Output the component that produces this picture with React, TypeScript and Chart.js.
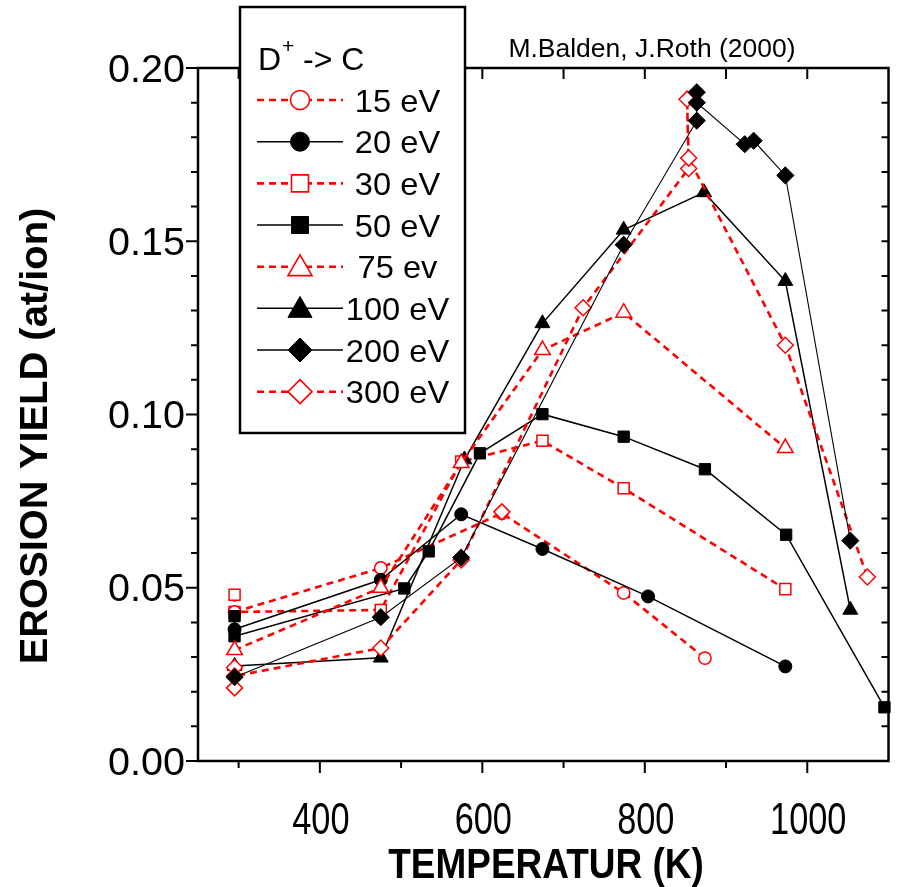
import React, { useEffect, useRef } from 'react';
import { Chart, registerables } from 'chart.js';

Chart.register(...registerables);

const FONT = '"Liberation Sans", Arial, Helvetica, sans-serif';

// ---- axes ----
const xMin = 250;
const xMax = 1100;
const yMin = 0;
const yMax = 0.2;
const xTickLabels = [400, 600, 800, 1000];
const xMinorTicks = [300, 500, 700, 900];
const yTickLabels = ['0.00', '0.05', '0.10', '0.15', '0.20'];
const yMinorTicks = [0.01, 0.02, 0.03, 0.04, 0.06, 0.07, 0.08, 0.09, 0.11, 0.12, 0.13, 0.14, 0.16, 0.17, 0.18, 0.19];

const xTitle = 'TEMPERATUR (K)';
const yTitle = 'EROSION YIELD (at/ion)';
const credit = 'M.Balden, J.Roth (2000)';
const legendTitleMain = 'D';
const legendTitleSup = '+';
const legendTitleRest = '-> C';

// ---- series (temperature K, erosion yield at/ion) ----
const names = ['15 eV', '20 eV', '30 eV', '50 eV', '75 ev', '100 eV', '200 eV', '300 eV'];

const t15 = [295, 475, 624, 774, 874];
const y15 = [0.043, 0.0557, 0.0715, 0.0485, 0.0297];

const t20 = [295, 475, 574, 674, 804, 973];
const y20 = [0.038, 0.0523, 0.0712, 0.0612, 0.0475, 0.0273];

const t30 = [295, 295, 475, 574, 674, 774, 973];
const y30 = [0.048, 0.043, 0.0436, 0.0864, 0.0924, 0.0787, 0.0496];

const t50 = [295, 295, 504, 534, 597, 674, 774, 874, 974, 1095];
const y50 = [0.0418, 0.036, 0.0498, 0.0605, 0.0888, 0.1001, 0.0936, 0.0842, 0.0653, 0.0155];

const t75 = [295, 475, 574, 674, 774, 973];
const y75 = [0.032, 0.05, 0.086, 0.1186, 0.1294, 0.0903];

const t100 = [295, 475, 578, 674, 774, 873, 973, 1053];
const y100 = [0.0274, 0.0298, 0.087, 0.1263, 0.1533, 0.1641, 0.1385, 0.0436];

const t200 = [295, 475, 574, 774, 864, 864, 864, 923, 934, 973, 1053];
const y200 = [0.0242, 0.0415, 0.0587, 0.149, 0.1848, 0.193, 0.19, 0.178, 0.179, 0.169, 0.0636];

const t300 = [295, 295, 295, 475, 574, 724, 854, 852, 854, 973, 1074];
const y300 = [0.027, 0.0211, 0.0245, 0.0326, 0.058, 0.1308, 0.171, 0.191, 0.174, 0.12, 0.0531];

// a lone 300 eV measurement not joined by the line
const t300b = [624];
const y300b = [0.0719];

const RED = '#ff0000';
const BLACK = '#000000';

type Kind = 'circle' | 'rect' | 'triangle' | 'rectRot';

const styles: { color: string; filled: boolean; kind: Kind; r: number; lw: number; order: number }[] = [
  { color: RED, filled: false, kind: 'circle', r: 6.2, lw: 2.6, order: 4 },
  { color: BLACK, filled: true, kind: 'circle', r: 6.5, lw: 1.5, order: 3 },
  { color: RED, filled: false, kind: 'rect', r: 7.8, lw: 2.6, order: 4 },
  { color: BLACK, filled: true, kind: 'rect', r: 8.0, lw: 1.5, order: 3 },
  { color: RED, filled: false, kind: 'triangle', r: 9.0, lw: 2.6, order: 2 },
  { color: BLACK, filled: true, kind: 'triangle', r: 8.6, lw: 1.5, order: 2 },
  { color: BLACK, filled: true, kind: 'rectRot', r: 8.6, lw: 1.1, order: 0 },
  { color: RED, filled: false, kind: 'rectRot', r: 8.0, lw: 2.6, order: 1 },
];

const seriesT = [t15, t20, t30, t50, t75, t100, t200, t300];
const seriesY = [y15, y20, y30, y50, y75, y100, y200, y300];

function txt(ctx: CanvasRenderingContext2D, s: string, x: number, y: number, font: string, sx: number, align: 'left' | 'center' | 'right') {
  ctx.save();
  ctx.font = font;
  ctx.textBaseline = 'alphabetic';
  ctx.textAlign = 'left';
  const w = ctx.measureText(s).width * sx;
  const x0 = align === 'center' ? x - w / 2 : align === 'right' ? x - w : x;
  ctx.translate(x0, y);
  ctx.scale(sx, 1);
  ctx.fillStyle = '#000';
  ctx.fillText(s, 0, 0);
  ctx.restore();
}

function marker(ctx: CanvasRenderingContext2D, kind: Kind, x: number, y: number, size: number, color: string, filled: boolean) {
  ctx.save();
  ctx.beginPath();
  if (kind === 'circle') {
    ctx.arc(x, y, size, 0, Math.PI * 2);
  } else if (kind === 'rect') {
    ctx.rect(x - size, y - size, size * 2, size * 2);
  } else if (kind === 'triangle') {
    ctx.moveTo(x, y - size);
    ctx.lineTo(x + size * 0.866, y + size * 0.5);
    ctx.lineTo(x - size * 0.866, y + size * 0.5);
    ctx.closePath();
  } else {
    ctx.moveTo(x, y - size);
    ctx.lineTo(x + size, y);
    ctx.lineTo(x, y + size);
    ctx.lineTo(x - size, y);
    ctx.closePath();
  }
  ctx.setLineDash([]);
  ctx.fillStyle = filled ? color : '#ffffff';
  ctx.fill();
  ctx.strokeStyle = color;
  ctx.lineWidth = filled ? 1 : 1.6;
  ctx.stroke();
  ctx.restore();
}

const framePlugin = {
  id: 'frame',
  beforeDatasetsDraw(chart: any) {
    const ctx: CanvasRenderingContext2D = chart.ctx;
    const { left, right, top, bottom } = chart.chartArea;
    const xs = chart.scales.x;
    const ys = chart.scales.y;
    ctx.save();
    ctx.strokeStyle = '#000';
    ctx.lineWidth = 2.5;
    ctx.setLineDash([]);
    ctx.strokeRect(left, top, right - left, bottom - top);
    ctx.lineWidth = 2;
    ctx.beginPath();
    for (const v of xTickLabels) {
      const px = xs.getPixelForValue(v);
      ctx.moveTo(px, bottom); ctx.lineTo(px, bottom + 12);
      ctx.moveTo(px, top); ctx.lineTo(px, top + 11);
    }
    for (const v of xMinorTicks) {
      const px = xs.getPixelForValue(v);
      ctx.moveTo(px, bottom); ctx.lineTo(px, bottom + 7);
      ctx.moveTo(px, top); ctx.lineTo(px, top + 11);
    }
    for (const s of yTickLabels) {
      const py = ys.getPixelForValue(parseFloat(s));
      ctx.moveTo(left, py); ctx.lineTo(left - 12, py);
      ctx.moveTo(right, py); ctx.lineTo(right - 7, py);
    }
    for (const v of yMinorTicks) {
      const py = ys.getPixelForValue(v);
      ctx.moveTo(left, py); ctx.lineTo(left - 7, py);
      ctx.moveTo(right, py); ctx.lineTo(right - 7, py);
    }
    ctx.stroke();
    ctx.restore();
  },
  afterDraw(chart: any) {
    const ctx: CanvasRenderingContext2D = chart.ctx;
    const { left } = chart.chartArea;
    const xs = chart.scales.x;
    const ys = chart.scales.y;
    for (const v of xTickLabels) {
      txt(ctx, String(v), xs.getPixelForValue(v) + 1, 834, `44px ${FONT}`, 0.78, 'center');
    }
    for (const s of yTickLabels) {
      const py = ys.getPixelForValue(parseFloat(s));
      txt(ctx, s, left - 13, py + 13.5, `38px ${FONT}`, 1.04, 'right');
    }
    txt(ctx, xTitle, 546, 878, `bold 42px ${FONT}`, 0.88, 'center');
    ctx.save();
    ctx.translate(47, 436);
    ctx.rotate(-Math.PI / 2);
    txt(ctx, yTitle, 0, 0, `bold 38px ${FONT}`, 1.05, 'center');
    ctx.restore();
    txt(ctx, credit, 652, 57, `25px ${FONT}`, 1.06, 'center');

    // legend box
    const bx = 240, by = 7, bw = 225, bh = 426;
    ctx.save();
    ctx.fillStyle = '#fff';
    ctx.fillRect(bx, by, bw, bh);
    ctx.strokeStyle = '#000';
    ctx.lineWidth = 2.5;
    ctx.strokeRect(bx, by, bw, bh);
    ctx.restore();
    txt(ctx, legendTitleMain, 258, 70, `32px ${FONT}`, 1, 'left');
    txt(ctx, legendTitleSup, 282, 53, `21px ${FONT}`, 1, 'left');
    txt(ctx, legendTitleRest, 303, 70, `32px ${FONT}`, 1, 'left');
    names.forEach((n, i) => {
      const st = styles[i];
      const yy = 100 + i * 41.67;
      ctx.save();
      ctx.beginPath();
      ctx.moveTo(257, yy);
      ctx.lineTo(343, yy);
      ctx.strokeStyle = st.color;
      ctx.lineWidth = st.filled ? 1.5 : 2.6;
      ctx.setLineDash(st.filled ? [] : [7, 5]);
      ctx.stroke();
      ctx.restore();
      const ms = st.kind === 'circle' ? 9.5 : st.kind === 'rect' ? 8.5 : st.kind === 'triangle' ? 13.9 : 12;
      marker(ctx, st.kind, 300, st.kind === 'triangle' ? yy + 2 : yy, ms, st.color, st.filled);
      txt(ctx, n, 397.5, yy + 11.5, `32px ${FONT}`, 1.02, 'center');
    });
  },
};

function toPts(t: number[], y: number[]) {
  return t.map((x, i) => ({ x, y: y[i] }));
}

export default function App() {
  const ref = useRef<HTMLCanvasElement | null>(null);
  useEffect(() => {
    if (!ref.current) return;
    const datasets: any[] = names.map((n, i) => {
      const st = styles[i];
      return {
        label: n,
        data: toPts(seriesT[i], seriesY[i]),
        showLine: true,
        borderColor: st.color,
        borderWidth: st.lw,
        borderDash: st.filled ? [] : [7, 5],
        pointStyle: st.kind,
        pointRadius: st.r,
        pointHoverRadius: st.r,
        pointBackgroundColor: st.filled ? st.color : '#ffffff',
        pointBorderColor: st.color,
        pointBorderWidth: st.filled ? 1 : 1.5,
        order: st.order,
        clip: false,
        tension: 0,
      };
    });
    const s3 = styles[7];
    datasets.push({
      label: '300 eV (extra)',
      data: toPts(t300b, y300b),
      showLine: false,
      pointStyle: s3.kind,
      pointRadius: s3.r,
      pointBackgroundColor: '#ffffff',
      pointBorderColor: s3.color,
      pointBorderWidth: 1.5,
      order: 1,
      clip: false,
    });
    const chart = new Chart(ref.current, {
      type: 'scatter',
      data: { datasets },
      options: {
        animation: false,
        responsive: false,
        devicePixelRatio: 1,
        layout: { padding: { left: 0, right: 7, top: 68, bottom: 0 } },
        plugins: { legend: { display: false }, tooltip: { enabled: false } },
        scales: {
          x: {
            type: 'linear',
            min: xMin,
            max: xMax,
            grid: { display: false },
            border: { display: false },
            ticks: { display: false },
            afterFit: (s: any) => { s.height = 126; },
          },
          y: {
            type: 'linear',
            min: yMin,
            max: yMax,
            grid: { display: false },
            border: { display: false },
            ticks: { display: false },
            afterFit: (s: any) => { s.width = 198; },
          },
        },
      } as any,
      plugins: [framePlugin],
    });
    return () => chart.destroy();
  }, []);
  return (
    <div style={{ position: 'absolute', left: 0, top: 0, width: 899, height: 887, background: '#fff' }}>
      <canvas ref={ref} width={899} height={887} style={{ width: 899, height: 887, display: 'block' }} />
    </div>
  );
}
